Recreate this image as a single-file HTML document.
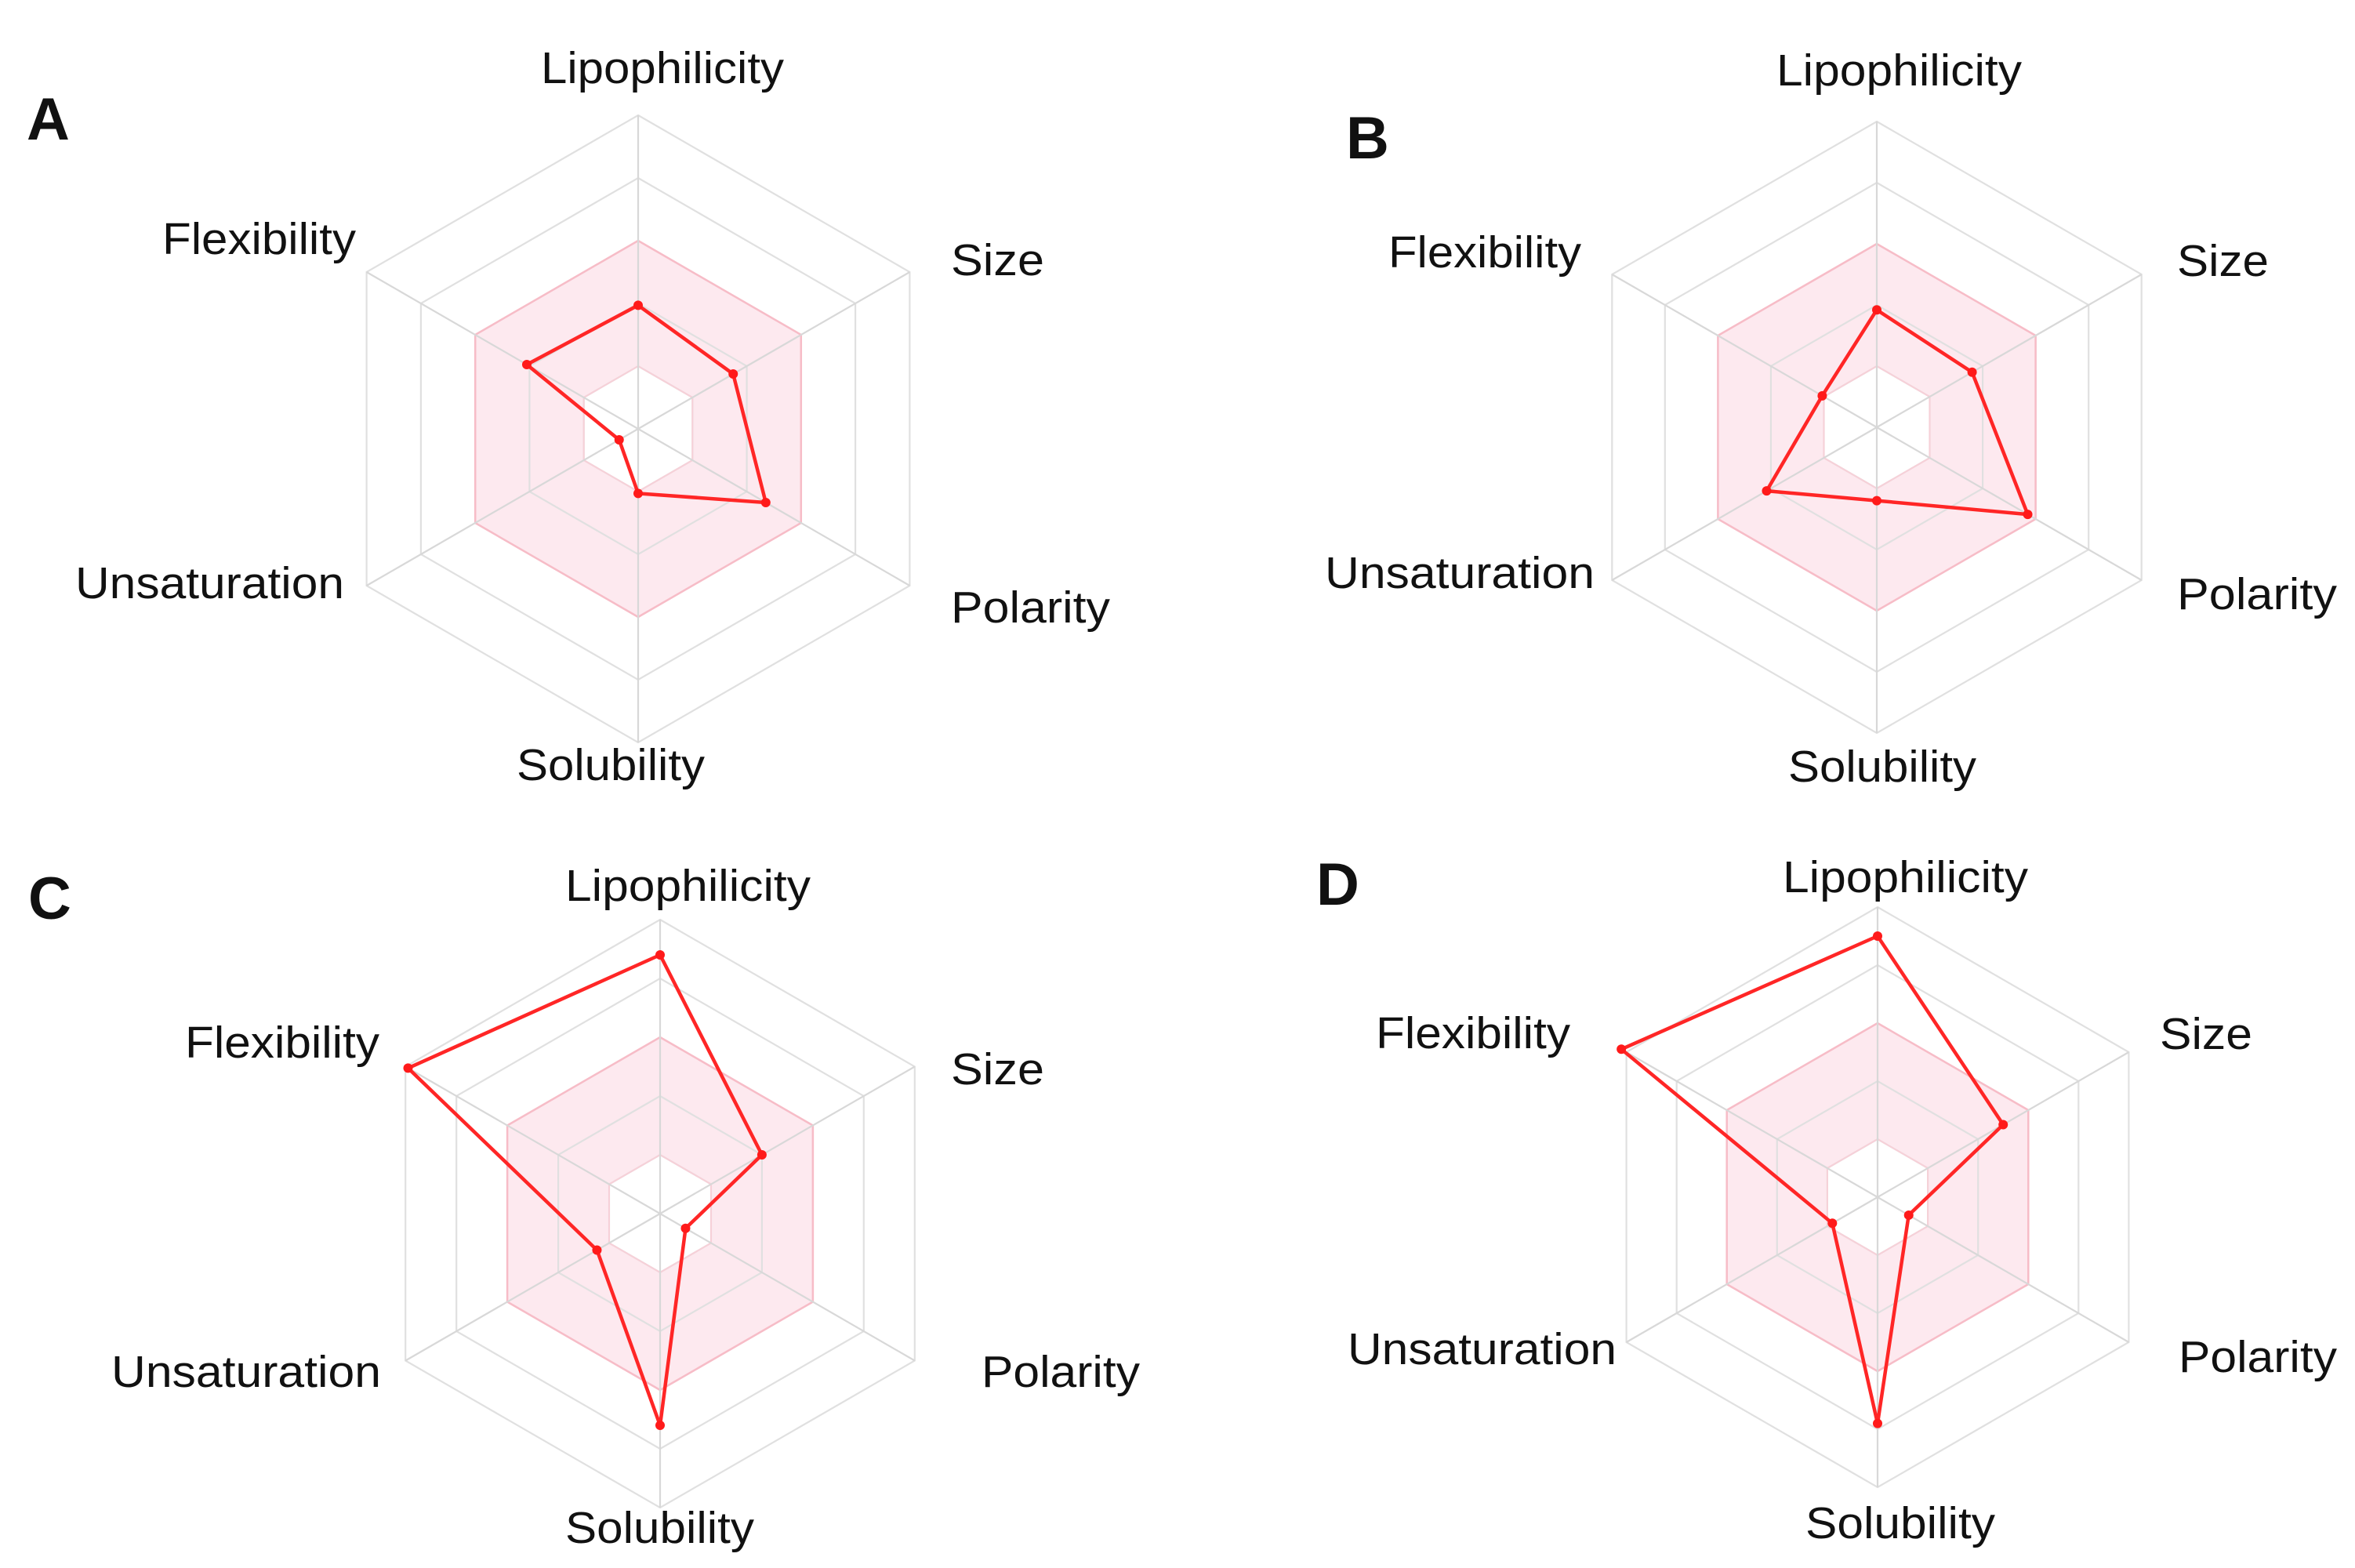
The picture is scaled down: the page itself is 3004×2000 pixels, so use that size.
<!DOCTYPE html>
<html><head><meta charset="utf-8"><style>
html,body{margin:0;padding:0;background:#fff}
svg{display:block}
text{font-family:"Liberation Sans",Arial,sans-serif;fill:#111}
</style></head><body>
<svg id="fig" width="3004" height="2000" viewBox="0 0 3004 2000" xmlns="http://www.w3.org/2000/svg">
<rect width="3004" height="2000" fill="#fff"/>
</svg>
<script>
const axes = ["Lipophilicity","Size","Polarity","Solubility","Unsaturation","Flexibility"];
const valuesA = [1.97, 1.75, 2.35, 1.03, 0.35, 2.05];
const valuesB = [1.92, 1.8, 2.85, 1.2, 2.08, 1.03];
const valuesC = [4.4, 2.0, 0.5, 3.6, 1.24, 4.95];
const valuesD = [4.5, 2.5, 0.62, 3.9, 0.9, 5.1];
const ringLevels = [1,2,3,4,5];
const panelLetters = ["A","B","C","D"];

const NS = "http://www.w3.org/2000/svg";
const svg = document.getElementById("fig");
function mk(tag, attrs, parent){
  const e = document.createElementNS(NS, tag);
  for (const k in attrs) e.setAttribute(k, attrs[k]);
  (parent||svg).appendChild(e);
  return e;
}
const layouts = [
  {cx:814, cy:547, step:80, letter:[34,178],
   labels:[[690,106,310],[1213,351,119],[1213,794,203],[659,995,240],[96,763,343],[207,324,247]]},
  {cx:2394, cy:545, step:78, letter:[1717,202],
   labels:[[2266,109,313],[2777,352,117],[2777,777,204],[2281,997,240],[1690,750,344],[1771,341,246]]},
  {cx:842, cy:1548, step:75, letter:[36,1172],
   labels:[[721,1149,313],[1213,1383,119],[1252,1769,202],[721,1968,241],[142,1769,344],[236,1349,248]]},
  {cx:2395, cy:1527, step:74, letter:[1679,1154],
   labels:[[2274,1138,313],[2755,1338,118],[2779,1750,202],[2303,1962,242],[1719,1740,343],[1755,1337,248]]}
];
const allValues = [valuesA, valuesB, valuesC, valuesD];

function pt(L, i, v){
  const ang = -Math.PI/2 + i*Math.PI/3;
  return [L.cx + Math.cos(ang)*v*L.step, L.cy + Math.sin(ang)*v*L.step];
}
function hexPath(L, v){
  return axes.map((a,i)=>{const p=pt(L,i,v);return (i?"L":"M")+p[0].toFixed(1)+","+p[1].toFixed(1);}).join("")+"Z";
}

layouts.forEach((L, pi)=>{
  const g = mk("g", {});
  
  
  const band = mk("path", {d: hexPath(L,3)+hexPath(L,1), fill:"#fde9ef", "fill-rule":"evenodd", stroke:"none"}, g);
  
  
  ringLevels.forEach(r=>{
    const ring = mk("path", {d: hexPath(L,r), fill:"none", stroke:"#e0e0e0", "stroke-width":2.2}, g);
    
    
  });
  const bandEdge = mk("path", {d: hexPath(L,3), fill:"none", stroke:"#f7bcc7", "stroke-width":2.5}, g);
  
  
  const bandInner = mk("path", {d: hexPath(L,1), fill:"none", stroke:"#f7d0d8", "stroke-width":2}, g);
  
  
  axes.forEach((a,i)=>{
    const p = pt(L,i,5);
    const ax = mk("line", {x1:L.cx, y1:L.cy, x2:p[0], y2:p[1], stroke:"#d8d8d8", "stroke-width":2.2}, g);
    
    
  });
  const vals = allValues[pi];
  const d = vals.map((v,i)=>{const p=pt(L,i,v);return (i?"L":"M")+p[0].toFixed(1)+","+p[1].toFixed(1);}).join("")+"Z";
  const poly = mk("path", {d:d, fill:"none", stroke:"#ff2626", "stroke-width":4.5, "stroke-linejoin":"round"}, g);
  
  
  vals.forEach((v,i)=>{
    const p = pt(L,i,v);
    const c = mk("circle", {cx:p[0], cy:p[1], r:6, fill:"#ff1a1a"}, g);
    
    
  });
  axes.forEach((a,i)=>{
    const lb = L.labels[i];
    const t = mk("text", {x:lb[0], y:lb[1], "font-size":57, textLength:lb[2], lengthAdjust:"spacingAndGlyphs"}, g);
    t.textContent = a;
    
    
  });
  const lt = mk("text", {x:L.letter[0], y:L.letter[1], "font-size":76, "font-weight":"bold"}, g);
  lt.textContent = panelLetters[pi];
  
  
});
</script>
</body></html>
